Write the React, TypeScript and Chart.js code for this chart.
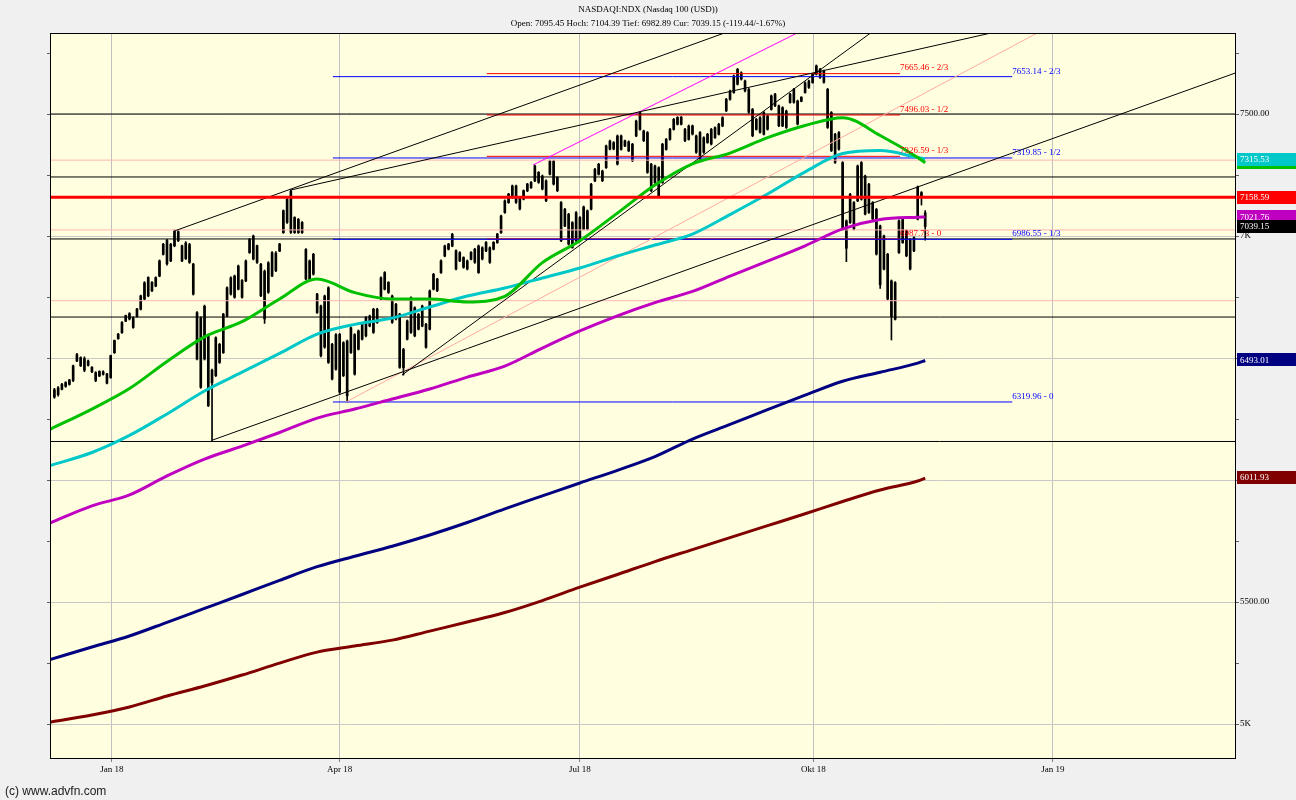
import React, { useEffect, useRef } from 'react';
import { Chart, registerables } from 'chart.js';

Chart.register(...registerables);

// ---- daily bars (Dec 8 2017 .. Nov 9 2018), index = trading day ----
const highs = [
  6376, 6383, 6396, 6403, 6413, 6471, 6519, 6505, 6505, 6492,
  6465, 6444, 6448, 6448, 6437, 6512, 6574, 6601, 6649, 6676,
  6686, 6669, 6704, 6758, 6813, 6833, 6813, 6833, 6902, 6970,
  6986, 6970, 7025, 7022, 6963, 6977, 6970, 6888, 6690, 6669,
  6717, 6598, 6455, 6587, 6560, 6683, 6792, 6833, 6840, 6881,
  6822, 6902, 6990, 7004, 6963, 6888, 6861, 6895, 6936, 6936,
  6970, 7107, 7154, 7188, 7079, 7072, 7059, 6949, 6902, 6929,
  6765, 6717, 6758, 6792, 6560, 6600, 6601, 6567, 6574, 6628,
  6600, 6615, 6642, 6670, 6676, 6704, 6704, 6833, 6854, 6813,
  6758, 6724, 6683, 6540, 6656, 6751, 6710, 6683, 6717, 6642,
  6779, 6847, 6827, 6902, 6963, 6970, 7011, 6943, 6936, 6915,
  6902, 6936, 6950, 6963, 6956, 6977, 6956, 6977, 7011, 7086,
  7148, 7175, 7209, 7209, 7161, 7189, 7216, 7223, 7291, 7264,
  7250, 7230, 7311, 7311, 7243, 7141, 7113, 7093, 7059, 7100,
  7080, 7123, 7107, 7216, 7277, 7298, 7270, 7373, 7393, 7387,
  7414, 7414, 7393, 7390, 7380, 7475, 7510, 7434, 7428, 7298,
  7291, 7284, 7380, 7400, 7441, 7482, 7489, 7490, 7441, 7455,
  7455, 7414, 7428, 7407, 7421, 7441, 7448, 7462, 7489, 7564,
  7598, 7660, 7687, 7673, 7639, 7605, 7523, 7482, 7489, 7510,
  7496, 7578, 7585, 7537, 7530, 7516, 7585, 7605, 7557, 7571,
  7632, 7639, 7667, 7701, 7687, 7680, 7605, 7510, 7421, 7428,
  7305, 7066, 7175, 7141, 7291, 7305, 7250, 7216, 7141, 7113,
  7045, 7004, 6929, 6820, 6813, 7066, 7072, 7025, 6990, 6997,
  7205, 7182, 7104.39,
];
const lows = [
  6335, 6344, 6369, 6380, 6389, 6403, 6485, 6465, 6444, 6467,
  6440, 6403, 6424, 6430, 6394, 6417, 6519, 6577, 6601, 6649,
  6656, 6622, 6667, 6697, 6738, 6751, 6772, 6792, 6833, 6922,
  6881, 6895, 6956, 6977, 6895, 6904, 6888, 6758, 6492, 6376,
  6492, 6301, 6162, 6424, 6478, 6519, 6669, 6758, 6745, 6779,
  6745, 6813, 6929, 6902, 6888, 6751, 6642, 6765, 6833, 6854,
  6936, 7011, 7052, 7011, 7011, 7011, 7011, 6820, 6820, 6840,
  6683, 6505, 6540, 6478, 6410, 6450, 6355, 6424, 6320, 6519,
  6430, 6533, 6574, 6587, 6628, 6601, 6642, 6738, 6779, 6765,
  6642, 6656, 6458, 6430, 6574, 6601, 6587, 6615, 6628, 6540,
  6615, 6779, 6772, 6847, 6915, 6943, 6956, 6861, 6895, 6868,
  6861, 6902, 6888, 6847, 6902, 6936, 6888, 6943, 6970, 7011,
  7093, 7134, 7154, 7134, 7107, 7148, 7182, 7195, 7223, 7216,
  7189, 7141, 7250, 7209, 7182, 6977, 7038, 6963, 6950, 6977,
  6977, 7025, 7025, 7107, 7223, 7250, 7223, 7277, 7353, 7353,
  7291, 7352, 7366, 7346, 7305, 7407, 7434, 7387, 7257, 7182,
  7216, 7161, 7216, 7352, 7393, 7434, 7455, 7455, 7387, 7393,
  7414, 7339, 7311, 7339, 7380, 7373, 7400, 7414, 7448, 7510,
  7557, 7585, 7619, 7639, 7591, 7503, 7407, 7434, 7421, 7414,
  7434, 7516, 7530, 7448, 7448, 7441, 7544, 7544, 7455, 7550,
  7585, 7605, 7626, 7660, 7646, 7626, 7441, 7346, 7298, 7352,
  7025, 6895, 7052, 7025, 7141, 7147, 7086, 7093, 7066, 6922,
  6785, 6861, 6738, 6574, 6656, 6929, 6970, 6915, 6861, 6936,
  7066, 7127, 6982.89,
];
const opens = [
  6340, 6350, 6372, 6400, 6392, 6408, 6488, 6502, 6498, 6470,
  6462, 6440, 6426, 6444, 6435, 6420, 6522, 6579, 6604, 6651,
  6682, 6625, 6670, 6700, 6808, 6755, 6810, 6795, 6836, 6925,
  6982, 6898, 6960, 7018, 6960, 6907, 6965, 6885, 6686, 6380,
  6712, 6594, 6398, 6428, 6482, 6522, 6672, 6762, 6836, 6782,
  6818, 6816, 6932, 7000, 6960, 6884, 6660, 6770, 6836, 6930,
  6938, 7014, 7056, 7184, 7076, 7014, 7056, 6945, 6823, 6925,
  6762, 6713, 6545, 6788, 6556, 6454, 6597, 6428, 6345, 6522,
  6596, 6536, 6577, 6666, 6631, 6700, 6645, 6742, 6782, 6810,
  6754, 6660, 6680, 6460, 6577, 6747, 6706, 6618, 6631, 6638,
  6618, 6782, 6824, 6850, 6918, 6946, 6959, 6940, 6898, 6912,
  6898, 6905, 6946, 6850, 6952, 6939, 6952, 6946, 6973, 7014,
  7096, 7137, 7157, 7205, 7158, 7151, 7185, 7198, 7226, 7261,
  7246, 7226, 7253, 7307, 7240, 7137, 7041, 7089, 6953, 7096,
  6980, 7028, 7103, 7110, 7226, 7253, 7266, 7280, 7356, 7383,
  7410, 7355, 7390, 7349, 7376, 7410, 7437, 7430, 7424, 7294,
  7219, 7280, 7219, 7355, 7396, 7437, 7486, 7458, 7437, 7396,
  7451, 7410, 7314, 7403, 7383, 7437, 7403, 7417, 7451, 7513,
  7560, 7588, 7622, 7669, 7635, 7601, 7519, 7437, 7485, 7417,
  7492, 7519, 7581, 7533, 7451, 7512, 7547, 7601, 7553, 7552,
  7588, 7635, 7629, 7663, 7683, 7676, 7601, 7506, 7302, 7424,
  7301, 7062, 7055, 7137, 7144, 7301, 7246, 7096, 7137, 7109,
  7041, 6864, 6925, 6816, 6659, 6932, 6973, 7021, 6986, 6939,
  7069, 7178, 7095.45,
];
const closes = [
  6370, 6378, 6392, 6384, 6410, 6468, 6514, 6468, 6450, 6488,
  6444, 6408, 6445, 6433, 6397, 6510, 6572, 6598, 6646, 6674,
  6660, 6665, 6701, 6755, 6742, 6830, 6776, 6830, 6898, 6966,
  6886, 6966, 7020, 6981, 6898, 6972, 6892, 6762, 6496, 6664,
  6496, 6305, 6450, 6583, 6556, 6680, 6788, 6829, 6749, 6877,
  6749, 6898, 6986, 6906, 6892, 6755, 6855, 6890, 6932, 6858,
  6967, 7104, 7150, 7015, 7014, 7068, 7014, 6824, 6898, 6844,
  6686, 6510, 6754, 6482, 6414, 6596, 6360, 6563, 6570, 6624,
  6434, 6611, 6638, 6591, 6672, 6605, 6700, 6829, 6850, 6769,
  6646, 6720, 6462, 6535, 6652, 6605, 6591, 6679, 6713, 6544,
  6775, 6843, 6776, 6898, 6959, 6967, 7007, 6865, 6932, 6872,
  6865, 6933, 6892, 6959, 6906, 6974, 6892, 6974, 7008, 7082,
  7144, 7172, 7205, 7138, 7111, 7186, 7213, 7220, 7287, 7220,
  7193, 7145, 7307, 7213, 7186, 6981, 7109, 6967, 7055, 6981,
  7076, 7119, 7029, 7212, 7273, 7294, 7227, 7369, 7389, 7357,
  7295, 7410, 7369, 7386, 7309, 7471, 7506, 7391, 7261, 7186,
  7287, 7165, 7376, 7396, 7437, 7478, 7458, 7487, 7391, 7451,
  7418, 7343, 7424, 7343, 7417, 7377, 7444, 7458, 7485, 7560,
  7594, 7656, 7683, 7643, 7595, 7507, 7411, 7478, 7425, 7506,
  7438, 7574, 7534, 7452, 7526, 7445, 7581, 7548, 7459, 7569,
  7628, 7609, 7663, 7697, 7650, 7630, 7445, 7350, 7417, 7356,
  7029, 6950, 7171, 7029, 7287, 7151, 7090, 7212, 7070, 6926,
  6800, 7000, 6742, 6670, 6809, 7062, 7068, 6919, 6865, 6993,
  7201, 7158.59, 7039.15,
];

// ---- moving averages, sampled at these bar indices ----
const maIdx = [-1, 10, 20, 30, 40, 50, 60, 70, 80, 90, 100, 110, 120, 130, 140, 150, 160, 170, 180, 190, 200, 210, 220, 230, 232];
const maGreen = [6209, 6291, 6375, 6486, 6587, 6649, 6742, 6824, 6768, 6742, 6742, 6730, 6753, 6891, 6981, 7094, 7209, 7296, 7340, 7403, 7453, 7485, 7412, 7322, 7300];
const maCyan = [6060, 6113, 6183, 6271, 6365, 6442, 6519, 6598, 6638, 6664, 6709, 6754, 6787, 6828, 6869, 6918, 6963, 7008, 7088, 7172, 7263, 7338, 7350, 7322, 7316];
const maMagenta = [5825, 5894, 5939, 6017, 6086, 6139, 6195, 6254, 6291, 6332, 6373, 6422, 6467, 6541, 6611, 6673, 6727, 6773, 6836, 6897, 6960, 7029, 7068, 7077, 7078];
const maNavy = [5265, 5316, 5361, 5417, 5474, 5531, 5589, 5645, 5688, 5729, 5775, 5826, 5882, 5935, 5988, 6040, 6096, 6168, 6228, 6289, 6348, 6405, 6442, 6479, 6490];
const maDarkRed = [5008, 5037, 5070, 5115, 5156, 5201, 5250, 5295, 5320, 5344, 5381, 5418, 5457, 5506, 5561, 5613, 5666, 5715, 5764, 5813, 5862, 5912, 5959, 5996, 6008];

// ---- axes ----
const xTickPos = [15.3, 76, 140, 202.2, 266];
const xTickLabels = ['Jan 18', 'Apr 18', 'Jul 18', 'Okt 18', 'Jan 19'];
const yTickVals = [5000, 5250, 5500, 5750, 6000, 6250, 6500, 6750, 7000, 7250, 7500, 7750];

// ---- horizontal levels ----
const blackLevels = [7500, 7242, 6988, 6668, 6158];
const pinkLevels = [7311, 7025, 6735];
const redLevel = 7158.59;

// ---- Fibonacci levels ----
const fibBlueVals = [6319.96, 6986.55, 7319.85, 7653.14];
const fibBlueLabels = ['6319.96 - 0', '6986.55 - 1/3', '7319.85 - 1/2', '7653.14 - 2/3'];
const fibBlueFrom = 74.2;
const fibBlueTo = 255.2;
const fibRedVals = [6987.73, 7326.59, 7496.03, 7665.46];
const fibRedLabels = ['6987.73 - 0', '7326.59 - 1/3', '7496.03 - 1/2', '7665.46 - 2/3'];
const fibRedFrom = 115.2;
const fibRedTo = 225.3;

// ---- trend lines (bar index, value) ----
const trendX1 = [32.2, 62.8, 41.8, 92.6, 77.7, 127.5];
const trendY1 = [7022, 7188, 6162, 6430, 6320, 7291];
const trendX2 = [200, 280, 330, 230, 280, 220];
const trendY2 = [7951, 7937, 7753, 7973, 7981, 8002];
const trendColors = ['#000000', '#000000', '#000000', '#000000', '#ffaaa0', '#ff00ff'];

// ---- last-value boxes on the price axis ----
const boxVals = [7300, 7315.53, 7158.59, 7078, 7039.15, 6493.01, 6011.93];
const boxTexts = ['7300.42', '7315.53', '7158.59', '7021.76', '7039.15', '6493.01', '6011.93'];
const boxColors = ['#00c000', '#00c8c8', '#ff0000', '#c000c0', '#000000', '#000080', '#800000'];

const titleLine1 = 'NASDAQI:NDX (Nasdaq 100 (USD))';
const titleLine2 = 'Open: 7095.45 Hoch: 7104.39 Tief: 6982.89 Cur: 7039.15 (-119.44/-1.67%)';
const footerText = '(c) www.advfn.com';

const X_MIN = -1.17;
const X_MAX = 314.8;
const Y_MIN = 4861;
const Y_MAX = 7832;
const SERIF = '"Liberation Serif", "Times New Roman", serif';

export default function App() {
  const ref = useRef<HTMLCanvasElement>(null);

  useEffect(() => {
    document.body.style.margin = '0';
    document.body.style.background = '#f0f0f0';
    const canvas = ref.current;
    if (!canvas) return;

    const bodyData = opens.map((o, i) => ({ x: i, y: [Math.min(o, closes[i]), Math.max(o, closes[i])] }));
    const wickData = highs.map((h, i) => ({ x: i, y: [lows[i], h] }));
    const maPts = (vals: number[]) => maIdx.map((x, k) => ({ x, y: vals[k] }));

    const lineDs = (data: any[], color: string, width: number, order: number, smooth = false) => ({
      type: 'line' as const,
      data,
      borderColor: color,
      borderWidth: width,
      pointRadius: 0,
      fill: false,
      tension: smooth ? 0.4 : 0,
      cubicInterpolationMode: smooth ? ('monotone' as const) : ('default' as const),
      order,
    });

    const datasets: any[] = [];
    datasets.push({
      type: 'bar',
      data: wickData,
      backgroundColor: '#000000',
      borderWidth: 0,
      barThickness: 1,
      grouped: false,
      order: 30,
    });
    datasets.push({
      type: 'bar',
      data: bodyData,
      backgroundColor: '#000000',
      borderWidth: 0,
      barThickness: 2,
      grouped: false,
      order: 29,
    });
    pinkLevels.forEach((v) => datasets.push(lineDs([{ x: X_MIN, y: v }, { x: X_MAX, y: v }], '#ffb4b4', 1, 20)));
    blackLevels.forEach((v) => datasets.push(lineDs([{ x: X_MIN, y: v }, { x: X_MAX, y: v }], '#000000', 1, 19)));
    fibRedVals.forEach((v) => datasets.push(lineDs([{ x: fibRedFrom, y: v }, { x: fibRedTo, y: v }], '#ff0000', 1, 18)));
    fibBlueVals.forEach((v) => datasets.push(lineDs([{ x: fibBlueFrom, y: v }, { x: fibBlueTo, y: v }], '#0000ff', 1, 17)));
    trendX1.forEach((x1, k) =>
      datasets.push(lineDs([{ x: x1, y: trendY1[k] }, { x: trendX2[k], y: trendY2[k] }], trendColors[k], 1, 16))
    );
    datasets.push(lineDs(maPts(maDarkRed), '#800000', 3, 10, true));
    datasets.push(lineDs(maPts(maNavy), '#000080', 3, 10, true));
    datasets.push(lineDs(maPts(maMagenta), '#c000c0', 3, 9, true));
    datasets.push(lineDs(maPts(maCyan), '#00c8c8', 3, 8, true));
    datasets.push(lineDs(maPts(maGreen), '#00c000', 3, 7, true));
    datasets.push(lineDs([{ x: X_MIN, y: redLevel }, { x: X_MAX, y: redLevel }], '#ff0000', 3, 6));

    const decor = {
      id: 'decor',
      beforeDraw(chart: any) {
        const { ctx, chartArea: a, width, height } = chart;
        ctx.save();
        ctx.fillStyle = '#f0f0f0';
        ctx.fillRect(0, 0, width, height);
        ctx.fillStyle = '#ffffe0';
        ctx.fillRect(a.left, a.top, a.right - a.left, a.bottom - a.top);
        ctx.restore();
      },
      afterDatasetsDraw(chart: any) {
        const { ctx, chartArea: a } = chart;
        const xs = chart.scales.x;
        const ys = chart.scales.y;
        ctx.save();
        ctx.beginPath();
        ctx.rect(a.left, a.top, a.right - a.left, a.bottom - a.top);
        ctx.clip();
        ctx.font = '9px ' + SERIF;
        ctx.textAlign = 'left';
        ctx.textBaseline = 'bottom';
        ctx.fillStyle = '#ff0000';
        fibRedVals.forEach((v, k) => {
          ctx.fillText(fibRedLabels[k], xs.getPixelForValue(fibRedTo), ys.getPixelForValue(v) - 1);
        });
        ctx.fillStyle = '#0000ff';
        fibBlueVals.forEach((v, k) => {
          ctx.fillText(fibBlueLabels[k], xs.getPixelForValue(fibBlueTo), ys.getPixelForValue(v) - 1);
        });
        ctx.restore();
      },
      afterDraw(chart: any) {
        const { ctx, chartArea: a, width } = chart;
        const ys = chart.scales.y;
        ctx.save();
        ctx.strokeStyle = '#000000';
        ctx.lineWidth = 1;
        ctx.strokeRect(Math.round(a.left) + 0.5, Math.round(a.top) + 0.5, Math.round(a.right - a.left) - 1, Math.round(a.bottom - a.top));
        ctx.strokeStyle = '#606060';
        yTickVals.forEach((v) => {
          const y = Math.round(ys.getPixelForValue(v)) + 0.5;
          ctx.beginPath();
          ctx.moveTo(a.left - 3, y);
          ctx.lineTo(a.left, y);
          ctx.stroke();
        });
        ctx.font = '9px ' + SERIF;
        ctx.textAlign = 'left';
        ctx.textBaseline = 'middle';
        boxVals.forEach((v, k) => {
          const y = ys.getPixelForValue(v);
          ctx.fillStyle = boxColors[k];
          ctx.fillRect(a.right + 1, Math.round(y - 6.5), width - a.right - 1, 13);
          ctx.fillStyle = '#ffffff';
          ctx.fillText(boxTexts[k], a.right + 4, y + 0.5);
        });
        ctx.fillStyle = '#000000';
        ctx.textAlign = 'center';
        ctx.font = '9px ' + SERIF;
        ctx.fillText(titleLine1, width / 2, 9.5);
        ctx.fillText(titleLine2, width / 2, 23.5);
        ctx.textAlign = 'left';
        ctx.fillStyle = '#202020';
        ctx.font = '12px "Liberation Sans", Arial, sans-serif';
        ctx.fillText(footerText, 5, 792);
        ctx.restore();
      },
    };

    const chart = new Chart(canvas, {
      type: 'bar',
      data: { datasets },
      options: {
        animation: false,
        responsive: false,
        events: [],
        layout: { padding: { left: 50, top: 33, right: 0, bottom: 0 } },
        plugins: { legend: { display: false }, tooltip: { enabled: false }, title: { display: false } },
        scales: {
          x: {
            type: 'linear',
            min: X_MIN,
            max: X_MAX,
            offset: false,
            grid: { color: '#c0c0c0', offset: false, tickLength: 4, tickColor: '#808080', lineWidth: 1 },
            border: { display: false },
            ticks: {
              autoSkip: false,
              maxRotation: 0,
              padding: 2,
              color: '#000000',
              font: { family: SERIF, size: 9 },
              callback: (_v: any, i: number) => xTickLabels[i],
            },
            afterBuildTicks: (s: any) => {
              s.ticks = xTickPos.map((v) => ({ value: v }));
            },
            afterFit: (s: any) => {
              s.height = 42;
            },
          },
          y: {
            type: 'linear',
            position: 'right',
            min: Y_MIN,
            max: Y_MAX,
            beginAtZero: false,
            grid: {
              color: (c: any) => (c.tick && c.tick.value % 500 === 0 ? '#c8c8c8' : 'rgba(0,0,0,0)'),
              tickColor: '#606060',
              tickLength: 3,
            },
            border: { display: false },
            ticks: {
              padding: 1,
              color: '#000000',
              font: { family: SERIF, size: 9 },
              callback: (v: any) => {
                const n = Number(v);
                if (n % 500 !== 0) return '';
                if (n % 1000 === 0) return n / 1000 + 'K';
                return n.toFixed(2);
              },
            },
            afterBuildTicks: (s: any) => {
              s.ticks = yTickVals.map((v) => ({ value: v }));
            },
            afterFit: (s: any) => {
              s.width = 60;
            },
          },
        },
      } as any,
      plugins: [decor],
    });

    return () => chart.destroy();
  }, []);

  return <canvas ref={ref} width={1296} height={800} style={{ display: 'block' }} />;
}
